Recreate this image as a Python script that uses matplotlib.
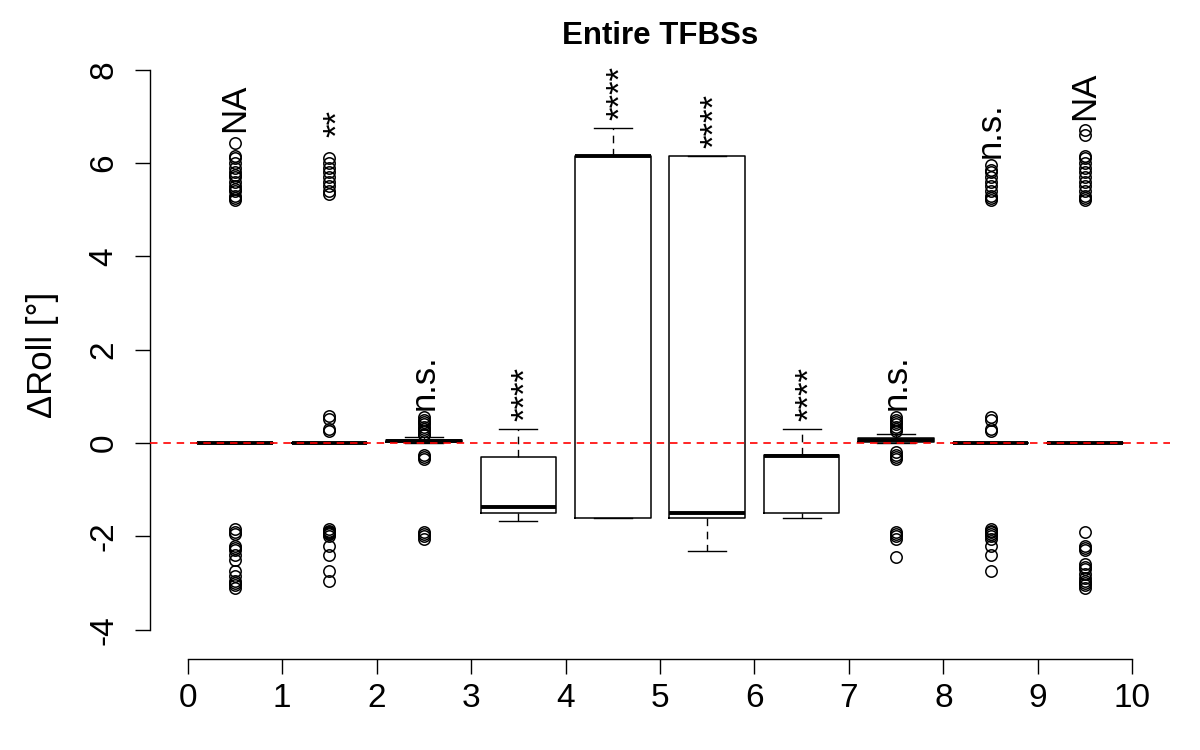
import matplotlib
matplotlib.use("Agg")
import matplotlib.pyplot as plt
from matplotlib.transforms import offset_copy

plt.rcParams["font.family"] = ["Liberation Sans", "DejaVu Sans"]

# box positions and summary statistics
positions = [0.5, 1.5, 2.5, 3.5, 4.5, 5.5, 6.5, 7.5, 8.5, 9.5]
whislo = [0.0, 0.0, 0.0, -1.68, -1.60, -2.31, -1.60, 0.0, 0.0, 0.0]
q1     = [0.0, 0.0, 0.02, -1.49, -1.60, -1.60, -1.49, 0.03, 0.0, 0.0]
med    = [0.0, 0.0, 0.05, -1.38, 6.15, -1.49, -0.28, 0.07, 0.0, 0.0]
q3     = [0.0, 0.0, 0.07, -0.29, 6.15, 6.15, -0.26, 0.10, 0.0, 0.0]
whishi = [0.0, 0.0, 0.12, 0.30, 6.76, 6.15, 0.30, 0.20, 0.0, 0.0]

fliers = [
    [6.43, 6.16, 6.10, 6.0, 5.9, 5.8, 5.75, 5.7, 5.6, 5.5, 5.45, 5.4, 5.3, 5.25, 5.2,
     -1.85, -1.9, -1.95, -2.2, -2.25, -2.3, -2.4, -2.5, -2.75, -2.85, -2.95, -3.0, -3.05, -3.1],
    [6.1, 6.0, 5.9, 5.8, 5.7, 5.6, 5.5, 5.4, 5.33, 0.57, 0.52, 0.3, 0.25,
     -1.85, -1.88, -1.9, -1.92, -1.95, -2.0, -2.2, -2.4, -2.75, -2.95],
    [0.55, 0.5, 0.45, 0.4, 0.35, 0.3, 0.25, 0.2, 0.17, -0.25, -0.3, -0.35,
     -1.9, -1.95, -2.0, -2.05],
    [],
    [],
    [],
    [],
    [0.55, 0.5, 0.45, 0.4, 0.35, 0.3, 0.25, -0.2, -0.25, -0.3, -0.35,
     -1.9, -1.95, -2.0, -2.05, -2.45],
    [5.95, 5.85, 5.8, 5.7, 5.6, 5.5, 5.4, 5.3, 5.25, 5.2, 0.55, 0.5, 0.3, 0.25,
     -1.85, -1.88, -1.9, -1.95, -2.0, -2.05, -2.2, -2.4, -2.75],
    [6.7, 6.6, 6.15, 6.1, 6.0, 5.9, 5.8, 5.7, 5.6, 5.5, 5.4, 5.3, 5.25, 5.2,
     -1.9, -2.2, -2.25, -2.3, -2.6, -2.65, -2.7, -2.8, -2.9, -2.95, -3.0, -3.05, -3.1],
]

labels = ["NA", "**", "n.s.", "****", "****", "****", "****", "n.s.", "n.s.", "NA"]
xticks = list(range(0, 11))
yticks = [-4, -2, 0, 2, 4, 6, 8]

stats = []
for i in range(len(positions)):
    stats.append(dict(whislo=whislo[i], q1=q1[i], med=med[i], q3=q3[i],
                      whishi=whishi[i], fliers=fliers[i]))

fig = plt.figure(figsize=(12, 7.5), dpi=100)
ax = fig.add_axes([0.125, 0.1213, 0.85, 0.8107])

ax.bxp(stats, positions=positions, widths=0.8, capwidths=0.4,
       manage_ticks=False,
       boxprops=dict(color="black", linewidth=1.1),
       medianprops=dict(color="black", linewidth=2.8, solid_capstyle="butt"),
       whiskerprops=dict(color="black", linewidth=1.0, linestyle=(0, (5.5, 4))),
       capprops=dict(color="black", linewidth=1.0),
       flierprops=dict(marker="o", markerfacecolor="none", markeredgecolor="black",
                       markersize=8.2, markeredgewidth=1.1, linestyle="none"))

ax.axhline(0, color="#ff0000", linewidth=1.2, linestyle=(0, (4.5, 3.5)), zorder=5)

# significance labels above each box
for i, lab in enumerate(labels):
    top = max([whishi[i]] + fliers[i]) + 0.75
    dx = 5.5 if lab.startswith("*") else 0
    tr = offset_copy(ax.transData, fig=fig, x=dx, y=0, units="points")
    ax.text(positions[i], top, lab, rotation=90, ha="center", va="center",
            fontsize=25, transform=tr)

ax.set_xlim(-0.4, 10.4)
ax.set_ylim(-4.63, 8.4)
ax.set_xticks(xticks)
ax.set_yticks(yticks)
ax.set_xticklabels([str(t) for t in xticks])
ax.set_yticklabels([str(t) for t in yticks])

for s in ["top", "right"]:
    ax.spines[s].set_visible(False)
ax.spines["left"].set_bounds(-4, 8)
ax.spines["bottom"].set_bounds(0, 10)
for s in ["left", "bottom"]:
    ax.spines[s].set_linewidth(1.0)

ax.tick_params(axis="both", direction="out", length=11, width=1.0, labelsize=24)
ax.tick_params(axis="x", pad=6)
ax.tick_params(axis="y", pad=11, labelrotation=90)
for t in ax.get_yticklabels():
    t.set_va("center")

ax.set_ylabel("ΔRoll [°]", fontsize=25, va="center")
ax.yaxis.set_label_coords(-0.105, 0.5)
ax.set_title("Entire TFBSs", fontsize=22.5, fontweight="bold", pad=3)

fig.savefig("out.png", dpi=100)
